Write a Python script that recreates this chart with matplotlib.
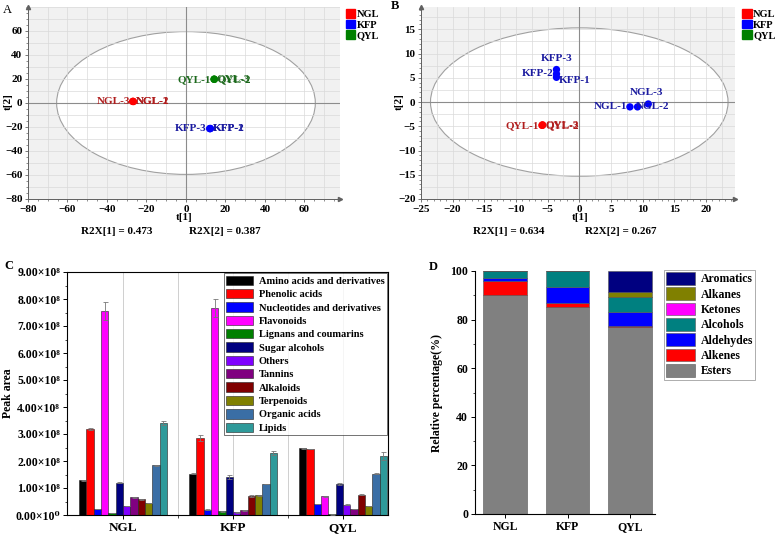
import numpy as np
import matplotlib
matplotlib.use('Agg')
import matplotlib.pyplot as plt
from matplotlib.patches import Ellipse, Patch

plt.rcParams['font.family'] = ['Liberation Serif', 'DejaVu Serif']
plt.rcParams['font.weight'] = 'bold'
plt.rcParams['axes.labelweight'] = 'bold'
plt.rcParams['axes.unicode_minus'] = True

W, H = 776, 535

# ---- PCA scores (A) ----
a_names = ['NGL-1', 'NGL-2', 'NGL-3', 'KFP-1', 'KFP-2', 'KFP-3', 'QYL-1', 'QYL-2', 'QYL-3']
a_t1 = [-26.6, -26.8, -27.0, 12.4, 12.2, 12.0, 14.2, 14.4, 14.3]
a_t2 = [1.2, 1.4, 1.3, -21.2, -21.4, -21.3, 19.8, 19.7, 19.9]

# ---- PCA scores (B) ----
b_names = ['NGL-1', 'NGL-2', 'NGL-3', 'KFP-1', 'KFP-2', 'KFP-3', 'QYL-1', 'QYL-2', 'QYL-3']
b_t1 = [8.0, 9.2, 10.9, -3.6, -3.6, -3.6, -5.9, -5.8, -5.8]
b_t2 = [-1.0, -1.0, -0.4, 5.1, 5.8, 6.7, -4.8, -4.8, -4.7]

# ---- Peak areas (C), x1e8 ----
groups = ['NGL', 'KFP', 'QYL']
classes = ['Amino acids and derivatives', 'Phenolic acids', 'Nucleotides and derivatives',
           'Flavonoids', 'Lignans and coumarins', 'Sugar alcohols', 'Others', 'Tannins',
           'Alkaloids', 'Terpenoids', 'Organic acids', 'Lipids']
ngl_area = [1.28, 3.18, 0.22, 7.55, 0.07, 1.20, 0.33, 0.65, 0.58, 0.45, 1.85, 3.42]
kfp_area = [1.53, 2.85, 0.20, 7.67, 0.13, 1.42, 0.10, 0.17, 0.70, 0.73, 1.15, 2.30]
qyl_area = [2.47, 2.45, 0.40, 0.70, 0.02, 1.15, 0.38, 0.23, 0.75, 0.33, 1.53, 2.20]
ngl_err = [0.01, 0.03, 0.01, 0.33, 0.005, 0.03, 0.01, 0.01, 0.01, 0.01, 0.02, 0.08]
kfp_err = [0.01, 0.10, 0.01, 0.32, 0.005, 0.08, 0.01, 0.01, 0.05, 0.01, 0.01, 0.06]
qyl_err = [0.01, 0.01, 0.01, 0.02, 0.003, 0.03, 0.01, 0.01, 0.02, 0.01, 0.01, 0.15]
c_colors = ['#000000', '#ff0000', '#0000ff', '#ff00ff', '#008000', '#000080',
            '#8000ff', '#800080', '#800000', '#808000', '#3a6ea5', '#2e9a9a']

# ---- Volatile relative percentage (D) ----
vol_classes = ['Esters', 'Alkenes', 'Aldehydes', 'Alcohols', 'Ketones', 'Alkanes', 'Aromatics']
ngl_pct = [90.0, 6.0, 1.0, 3.0, 0.0, 0.0, 0.0]
kfp_pct = [85.2, 1.5, 6.8, 6.5, 0.0, 0.0, 0.0]
qyl_pct = [76.8, 0.5, 6.0, 6.0, 0.2, 2.0, 8.5]
d_colors = ['#808080', '#ff0000', '#0000ff', '#008080', '#ff00ff', '#808000', '#000080']


def px_axes(fig, l, t, r, b):
    return fig.add_axes([l / W, 1 - b / H, (r - l) / W, (b - t) / H])


def px_text(fig, x, y, s, **kw):
    fig.text(x / W, 1 - y / H, s, **kw)


fig = plt.figure(figsize=(W / 100, H / 100), dpi=100)

score_groups = {'NGL': '#ff0000', 'KFP': '#0000ff', 'QYL': '#008000'}


def score_panel(ax, t1, t2, colors, xlim, ylim, ell, step, xt, yt):
    ax.set_facecolor('#f1f1f1')
    ax.add_patch(Ellipse((0, 0), 2 * ell[0], 2 * ell[1], facecolor='white',
                         edgecolor='#a0a0a0', lw=0.8, zorder=0))
    for v in np.arange(xlim[0], xlim[1] + 0.01, step):
        ax.axvline(v, color='#dadada', lw=0.5, zorder=1)
    for v in np.arange(ylim[0], ylim[1] + 0.01, step):
        ax.axhline(v, color='#dadada', lw=0.5, zorder=1)
    ax.axvline(0, color='#8c8c8c', lw=0.8, zorder=2)
    ax.axhline(0, color='#8c8c8c', lw=0.8, zorder=2)
    ax.scatter(t1, t2, s=28, c=colors, zorder=4, edgecolors='none')
    ax.set_xlim(xlim)
    ax.set_ylim(ylim)
    ax.set_xticks(xt)
    ax.set_yticks(yt)
    ax.tick_params(labelsize=8, length=2.5, width=0.6, color='#606060', pad=1.5)
    ax.minorticks_on()
    ax.tick_params(which='minor', length=1.5, width=0.5, color='#606060')
    for s in ['top', 'right']:
        ax.spines[s].set_visible(False)
    for s in ['left', 'bottom']:
        ax.spines[s].set_color('#606060')
        ax.spines[s].set_linewidth(0.7)
    ax.plot(1, ylim[0], '>', color='#606060', ms=3, transform=ax.get_yaxis_transform(), clip_on=False)
    ax.plot(xlim[0], 1, '^', color='#606060', ms=3, transform=ax.get_xaxis_transform(), clip_on=False)


# ---------- A ----------
axA = px_axes(fig, 28, 7, 340, 199)
colA = [score_groups[n[:3]] for n in a_names]
score_panel(axA, a_t1, a_t2, colA, (-80, 78), (-80, 80), (65.5, 59.5), 10,
            [-80, -60, -40, -20, 0, 20, 40, 60], [-80, -60, -40, -20, 0, 20, 40, 60])
txtA = {'NGL': '#b01e1e', 'KFP': '#1c1ca0', 'QYL': '#1e6a1e'}
for grp, left_lab, right_labs in [('NGL', 'NGL-3', ['NGL-1', 'NGL-2']),
                                  ('QYL', 'QYL-1', ['QYL-2', 'QYL-3']),
                                  ('KFP', 'KFP-3', ['KFP-1', 'KFP-2'])]:
    i = a_names.index(left_lab)
    axA.annotate(left_lab, (a_t1[i], a_t2[i]), xytext=(-2, 0), textcoords='offset points',
                 ha='right', va='center', fontsize=8, color=txtA[grp], zorder=5)
    for lab in right_labs:
        j = a_names.index(lab)
        axA.annotate(lab, (a_t1[j], a_t2[j]), xytext=(2, 0), textcoords='offset points',
                     ha='left', va='center', fontsize=8, color=txtA[grp], zorder=5)
px_text(fig, 8, 102, 't[2]', ha='center', va='center', fontsize=8, rotation=90)
px_text(fig, 184, 218, 't[1]', ha='center', va='center', fontsize=8)
px_text(fig, 117, 232, 'R2X[1] = 0.473', ha='center', va='center', fontsize=8)
px_text(fig, 225, 232, 'R2X[2] = 0.387', ha='center', va='center', fontsize=8)
px_text(fig, 3, 10, 'A', ha='left', va='center', fontsize=9, fontweight='normal')
axA.legend(handles=[Patch(color=c, label=g) for g, c in score_groups.items()],
           loc='upper left', bbox_to_anchor=(1.005, 1.01), frameon=False, fontsize=7.5,
           handlelength=0.9, handleheight=0.9, handletextpad=0.15, labelspacing=0.05,
           borderaxespad=0)

# ---------- B ----------
axB = px_axes(fig, 421, 7, 735, 199)
colB = ['#0000ff'] * 6 + ['#ff0000'] * 3
score_panel(axB, b_t1, b_t2, colB, (-25, 24.6), (-20, 19.6), (23.5, 15.3), 2.5,
            [-25, -20, -15, -10, -5, 0, 5, 10, 15, 20], [-20, -15, -10, -5, 0, 5, 10, 15])
blue_t, red_t = '#1c1ca0', '#b01e1e'
lab_pos = {'KFP-3': ((0, 5), 'center', 'bottom', blue_t),
           'KFP-2': ((-2, 0), 'right', 'center', blue_t),
           'KFP-1': ((2, -2), 'left', 'center', blue_t),
           'NGL-3': ((-1, 5), 'center', 'bottom', blue_t),
           'NGL-1': ((-2, 0), 'right', 'center', blue_t),
           'NGL-2': ((-1, 0), 'left', 'center', blue_t),
           'QYL-1': ((-2, 0), 'right', 'center', red_t),
           'QYL-2': ((2, 0), 'left', 'center', red_t),
           'QYL-3': ((2, 0), 'left', 'center', red_t)}
for i, n in enumerate(b_names):
    off, ha, va, c = lab_pos[n]
    axB.annotate(n, (b_t1[i], b_t2[i]), xytext=off, textcoords='offset points',
                 ha=ha, va=va, fontsize=8, color=c, zorder=5)
px_text(fig, 399, 102, 't[2]', ha='center', va='center', fontsize=8, rotation=90)
px_text(fig, 580, 218, 't[1]', ha='center', va='center', fontsize=8)
px_text(fig, 509, 232, 'R2X[1] = 0.634', ha='center', va='center', fontsize=8)
px_text(fig, 621, 232, 'R2X[2] = 0.267', ha='center', va='center', fontsize=8)
px_text(fig, 391, 6, 'B', ha='left', va='center', fontsize=9)
axB.legend(handles=[Patch(color=c, label=g) for g, c in score_groups.items()],
           loc='upper left', bbox_to_anchor=(1.01, 1.01), frameon=False, fontsize=7.5,
           handlelength=0.9, handleheight=0.9, handletextpad=0.15, labelspacing=0.05,
           borderaxespad=0)

# ---------- C ----------
axC = px_axes(fig, 67, 272, 388, 515)
areas = np.array([ngl_area, kfp_area, qyl_area]) * 1e8
errs = np.array([ngl_err, kfp_err, qyl_err]) * 1e8
xg = np.arange(1, len(groups) + 1)
bw = 0.8 / len(classes)
for v in [1, 1.5, 2, 2.5, 3]:
    axC.axvline(v, color='#cfcfcf', lw=0.7, zorder=0)
for k, cls in enumerate(classes):
    xs = xg + (k - (len(classes) - 1) / 2) * bw
    axC.bar(xs, areas[:, k], bw, color=c_colors[k], edgecolor='#222222', lw=0.4,
            label=cls, zorder=2)
    axC.errorbar(xs, areas[:, k], yerr=errs[:, k], fmt='none', ecolor='#777777',
                 elinewidth=0.6, capsize=1.8, capthick=0.6, zorder=3)
axC.set_xlim(0.49, 3.41)
axC.set_ylim(0, 9e8)
axC.set_xticks(xg)
axC.set_xticklabels(groups, fontsize=9.5)
axC.set_xticks([1.5, 2.5], minor=True)
yt = np.arange(0, 10) * 1e8
axC.set_yticks(yt)
axC.set_yticklabels(['%.2f×10⁸' % (v / 1e8) if v > 0 else '0.00×10⁰' for v in yt], fontsize=8.5)
axC.set_yticks(np.arange(0.5, 9, 1) * 1e8, minor=True)
axC.tick_params(length=3, width=0.7, direction='out', pad=2)
axC.tick_params(which='minor', length=1.8, width=0.5)
for s in axC.spines.values():
    s.set_linewidth(0.8)
px_text(fig, 8, 393, 'Peak area', ha='center', va='center', fontsize=8.5, rotation=90)
axC.legend(loc='upper right', bbox_to_anchor=(1.0, 1.0), fontsize=7.5, frameon=True,
           fancybox=False, edgecolor='#333333', handlelength=2.6, handleheight=1.0,
           handletextpad=0.5, labelspacing=0.3, borderpad=0.25, borderaxespad=0.1)
axC.get_legend().get_frame().set_linewidth(0.6)
px_text(fig, 4, 266, 'C', ha='left', va='center', fontsize=9)

# ---------- D ----------
axD = px_axes(fig, 475, 271, 655, 514)
pcts = np.array([ngl_pct, kfp_pct, qyl_pct])
bottom = np.zeros(len(groups))
handles = []
for k, cls in enumerate(vol_classes):
    b = axD.bar(xg, pcts[:, k], 0.69, bottom=bottom, color=d_colors[k], edgecolor='#555555',
                lw=0.4, label=cls)
    bottom += pcts[:, k]
    handles.append(b)
axD.set_xlim(0.52, 3.4)
axD.set_ylim(0, 100)
axD.set_xticks(xg)
axD.set_xticklabels(groups, fontsize=9)
axD.set_yticks([0, 20, 40, 60, 80, 100])
axD.set_yticks([10, 30, 50, 70, 90], minor=True)
axD.tick_params(labelsize=8.5, length=3, width=0.7, pad=2)
axD.tick_params(which='minor', length=1.8, width=0.5)
for s in ['top', 'right']:
    axD.spines[s].set_visible(False)
axD.set_ylabel('Relative percentage(%)', fontsize=8.5, fontweight='bold', labelpad=5)
axD.legend(handles[::-1], vol_classes[::-1], loc='upper left', bbox_to_anchor=(1.05, 1.005),
           fontsize=8.5, frameon=True, fancybox=False, edgecolor='#888888', handlelength=2.4,
           handleheight=1.25, handletextpad=0.5, labelspacing=0.18, borderpad=0.2,
           borderaxespad=0)
axD.get_legend().get_frame().set_linewidth(0.6)
px_text(fig, 429, 267, 'D', ha='left', va='center', fontsize=9)

fig.savefig('out.png', dpi=100)
